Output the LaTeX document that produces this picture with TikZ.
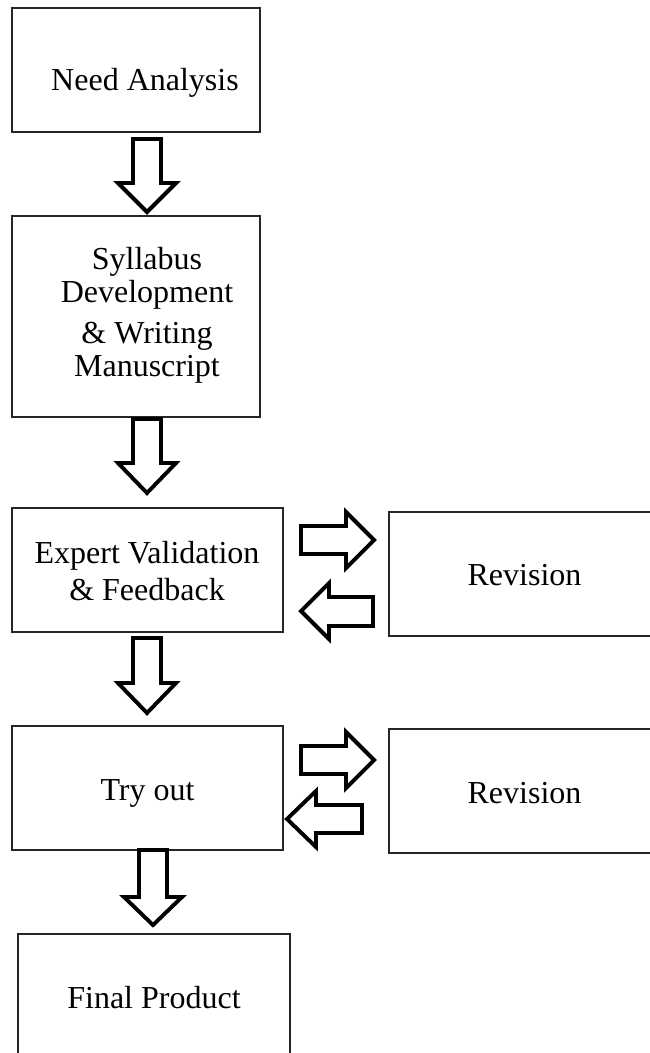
\documentclass[tikz,border=0pt]{standalone}
\usepackage{fontspec}
\setmainfont{Liberation Serif}
\begin{document}
\begin{tikzpicture}[x=1pt,y=-1pt,
  box/.style={draw=black!85,line width=1.1pt,rectangle,inner sep=0pt,outer sep=0pt},
  lbl/.style={inner sep=0pt,anchor=base,font=\fontsize{32}{37}\selectfont,align=center},
  barrow/.style={draw=black,line width=3.9pt,line join=miter,fill=white}]
\useasboundingbox (0,0) rectangle (650,1053);
\clip (0,0) rectangle (650,1053);
% boxes
\node[box,minimum width=248pt,minimum height=124pt] (need) at (136,70) {};
\node[box,minimum width=248pt,minimum height=201pt] (syl) at (136,316.5) {};
\node[box,minimum width=271pt,minimum height=124pt] (exp) at (147.5,570) {};
\node[box,minimum width=280pt,minimum height=124pt] (rev1) at (529,574) {};
\node[box,minimum width=271pt,minimum height=124pt] (try) at (147.5,788) {};
\node[box,minimum width=280pt,minimum height=124pt] (rev2) at (529,791) {};
\node[box,minimum width=272pt,minimum height=160pt] (fin) at (154,1014) {};
% labels
\node[lbl] (tneed) at (145,90) {Need Analysis};
\node[lbl] (tsyl1) at (147,269) {Syllabus};
\node[lbl] (tsyl2) at (147,302) {Development};
\node[lbl] (tsyl3) at (147,343) {\&~Writing};
\node[lbl] (tsyl4) at (147,376) {Manuscript};
\node[lbl] (texp1) at (147,563) {Expert Validation};
\node[lbl] (texp2) at (147,600) {\&~Feedback};
\node[lbl] (trev1) at (524.5,585) {Revision};
\node[lbl] (ttry) at (147.5,800) {Try out};
\node[lbl] (trev2) at (524.5,803) {Revision};
\node[lbl] (tfin) at (154,1008) {Final Product};
% block arrows down
\draw[barrow] (133,139) -- (161,139) -- (161,183) -- (176,183) -- (147,212) -- (118,183) -- (133,183) -- cycle;
\draw[barrow] (133,419) -- (161,419) -- (161,463) -- (176,463) -- (147,493) -- (118,463) -- (133,463) -- cycle;
\draw[barrow] (133,638) -- (161,638) -- (161,683) -- (176,683) -- (147,713) -- (118,683) -- (133,683) -- cycle;
\draw[barrow] (139,850) -- (167,850) -- (167,897) -- (182,897) -- (153,925) -- (124,897) -- (139,897) -- cycle;
% block arrows right
\draw[barrow] (301,526) -- (346,526) -- (346,512) -- (374,540) -- (346,568) -- (346,554) -- (301,554) -- cycle;
\draw[barrow] (301,746) -- (346,746) -- (346,732) -- (374,760) -- (346,788) -- (346,774) -- (301,774) -- cycle;
% block arrows left
\draw[barrow] (373,597) -- (329,597) -- (329,583) -- (301,611) -- (329,639) -- (329,626) -- (373,626) -- cycle;
\draw[barrow] (362,805) -- (316,805) -- (316,791) -- (287,819) -- (316,847) -- (316,833) -- (362,833) -- cycle;
\end{tikzpicture}
\end{document}
